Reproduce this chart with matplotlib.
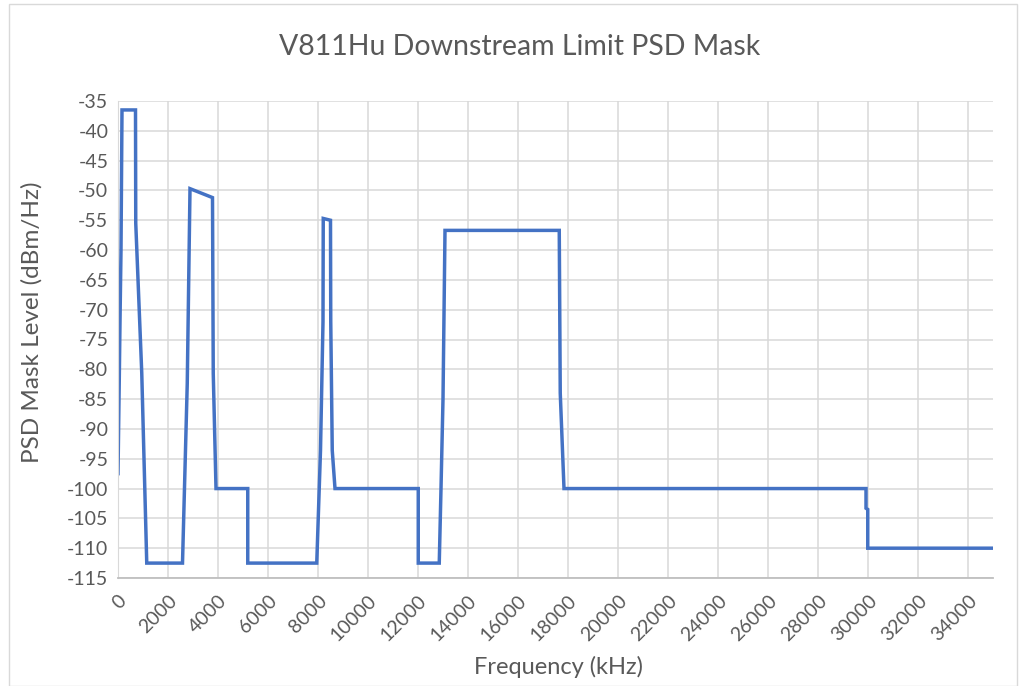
import matplotlib
matplotlib.use("Agg")
import matplotlib.pyplot as plt
from matplotlib.patches import Rectangle

# Data: PSD mask breakpoints (frequency kHz, level dBm/Hz)
freq_khz = [0, 50, 80, 120, 160, 700, 710, 950, 1150,
            2580, 2770, 2880, 3780, 3810, 3920,
            5190, 5190, 7950, 8100, 8200, 8210, 8500, 8510, 8570, 8680,
            12010, 12010, 12850, 12920, 13000, 13080,
            17650, 17690, 17840,
            29920, 29920, 29990, 29990, 35000]
psd_dbm = [-97.5, -82, -72, -60, -36.5, -36.5, -55.5, -80.6, -112.5,
           -112.5, -82.4, -49.7, -51.2, -80.7, -100,
           -100, -112.5, -112.5, -93.6, -72, -54.7, -55.0, -72, -93.6, -100,
           -100, -112.5, -112.5, -100, -85, -56.7,
           -56.7, -84, -100,
           -100, -103.3, -103.5, -110, -110]

title = "V811Hu Downstream Limit PSD Mask"
x_label = "Frequency (kHz)"
y_label = "PSD Mask Level (dBm/Hz)"
x_ticks = list(range(0, 35000, 2000))
y_ticks = list(range(-115, -34, 5))

plt.rcParams['font.family'] = ['Lato', 'DejaVu Sans']
txt = '#595959'

fig = plt.figure(figsize=(10.26, 6.86), dpi=100)
ax = fig.add_axes([118/1026, 1-578/686, (993-118)/1026, (578-101)/686])

ax.plot(freq_khz, psd_dbm, color='#4472C4', lw=2.5, solid_joinstyle='miter')

ax.set_xlim(0, 35000)
ax.set_ylim(-115, -35)
ax.set_xticks(x_ticks)
ax.set_xticklabels([str(t) for t in x_ticks], rotation=45, ha='right',
                   rotation_mode='anchor', fontsize=14, color=txt)
ax.set_yticks(y_ticks)
ax.set_yticklabels([str(t) for t in y_ticks], fontsize=14, color=txt)
ax.tick_params(axis='both', length=0, pad=7)
ax.tick_params(axis='x', pad=10)
ax.grid(True, color='#d9d9d9', lw=1.1)
ax.set_axisbelow(True)
for s in ['top', 'right']:
    ax.spines[s].set_visible(False)
ax.spines['left'].set_color('#d9d9d9')
ax.spines['bottom'].set_color('#bfbfbf')
ax.spines['bottom'].set_linewidth(1.3)

fig.text(520/1026, 1-47/686, title, ha='center', va='center', fontsize=20.5, color=txt)
fig.text(559/1026, 1-667/686, x_label, ha='center', va='center', fontsize=17, color=txt)
fig.text(32/1026, 1-322/686, y_label, ha='center', va='center', rotation=90,
         fontsize=17.5, color=txt)

fig.patches.append(Rectangle((9/1026, 0.0), 1-18/1026, 1-4/686, transform=fig.transFigure,
                             fill=False, edgecolor='#d9d9d9', lw=1))

fig.savefig('out.png', dpi=100)
